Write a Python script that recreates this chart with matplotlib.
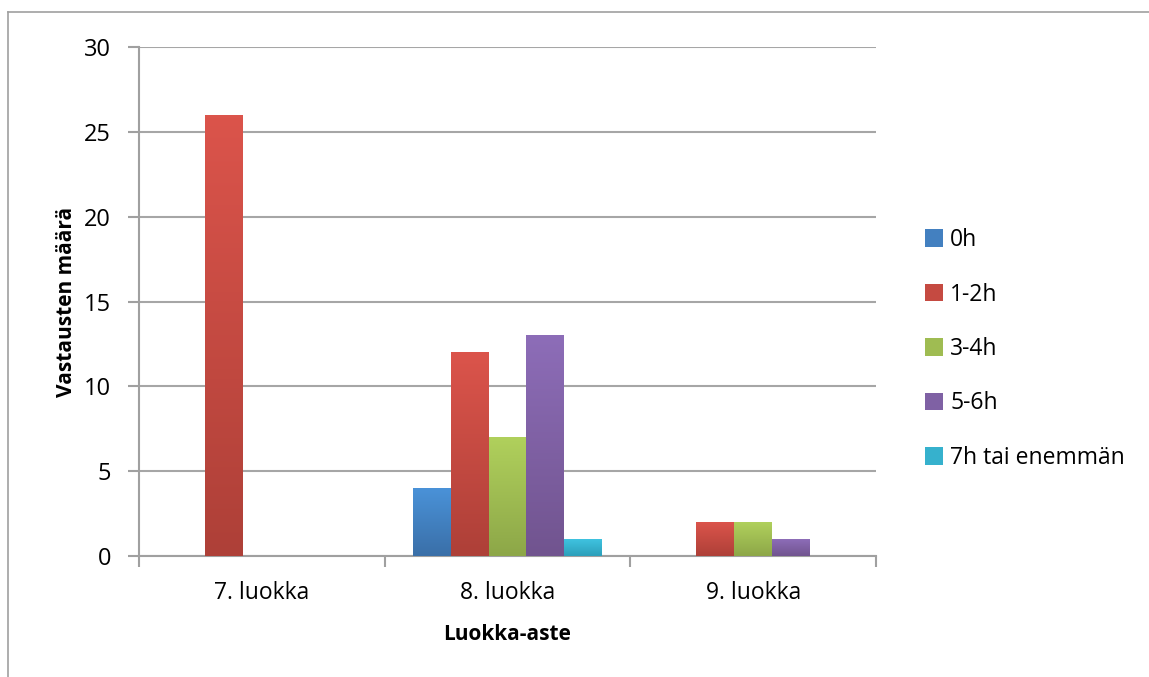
import numpy as np
import matplotlib
matplotlib.use("Agg")
import matplotlib.pyplot as plt
from matplotlib.lines import Line2D
from matplotlib.patches import Patch
from matplotlib.colors import LinearSegmentedColormap

categories = ["7. luokka", "8. luokka", "9. luokka"]
series_names = ["0h", "1-2h", "3-4h", "5-6h", "7h tai enemmän"]
v_0h = [0, 4, 0]
v_1_2h = [26, 12, 2]
v_3_4h = [0, 7, 2]
v_5_6h = [0, 13, 1]
v_7h = [0, 1, 0]
series_values = [v_0h, v_1_2h, v_3_4h, v_5_6h, v_7h]
yticks = [0, 5, 10, 15, 20, 25, 30]

tops = ["#4a92d8", "#db544b", "#b0d05c", "#8d6db8", "#3fc3e0"]
bottoms = ["#3a6fa8", "#ae4038", "#8da748", "#71548f", "#2c9fba"]
mids = ["#4380c0", "#c54a41", "#9fbc52", "#7f61a4", "#36b1cd"]

plt.rcParams['font.family'] = ['Open Sans', 'DejaVu Sans']
fig = plt.figure(figsize=(11.49, 6.77), dpi=100)
ax = fig.add_axes([139/1149, 1-556/677, (876-139)/1149, (556-47)/677])

n = len(series_names)
w = 1.0 / (n + 1.5)
x = np.arange(len(categories))
grad = np.linspace(0, 1, 100).reshape(-1, 1)
for i, (vals, name) in enumerate(zip(series_values, series_names)):
    offs = x + (i - (n - 1) / 2) * w
    bars = ax.bar(offs, vals, width=w, color=mids[i], label=name, zorder=3, linewidth=0)
    cmap = LinearSegmentedColormap.from_list("g%d" % i, [bottoms[i], tops[i]])
    for b in bars:
        h = b.get_height()
        if h <= 0:
            continue
        x0 = b.get_x()
        im = ax.imshow(grad, extent=[x0, x0 + b.get_width(), 0, h], origin='lower',
                       cmap=cmap, aspect='auto', zorder=4, interpolation='bicubic')
        im.set_clip_path(b)

ax.set_xlim(-0.5, len(categories) - 0.5)
ax.set_ylim(0, 30)
ax.set_yticks(yticks)
ax.set_yticklabels([str(t) for t in yticks], fontsize=17)
ax.set_xticks(x)
ax.set_xticklabels(categories, fontsize=16.5)
ax.tick_params(axis='x', length=0, pad=18)
ax.tick_params(axis='y', length=8, width=1.5, color='#a0a0a0', pad=12)
ax.set_xticks(np.arange(-0.5, len(categories)), minor=True)
ax.tick_params(axis='x', which='minor', length=8, width=1.5, color='#a0a0a0')
ax.yaxis.grid(True, color='#a6a6a6', linewidth=1.5, zorder=0)
ax.set_axisbelow(True)
for s in ['top', 'right']:
    ax.spines[s].set_visible(False)
for s in ['left', 'bottom']:
    ax.spines[s].set_color('#a0a0a0')
    ax.spines[s].set_linewidth(1.5)
ax.set_ylabel("Vastausten määrä", fontsize=15, fontweight='bold', labelpad=5)
ax.set_xlabel("Luokka-aste", fontsize=15, fontweight='bold', labelpad=14)

handles = [Patch(facecolor=mids[i], label=series_names[i]) for i in range(n)]
fig.legend(handles=handles, loc='center left', bbox_to_anchor=(916/1149, 1-349/677),
           frameon=False, fontsize=16.5, handlelength=0.8, handleheight=0.8,
           handletextpad=0.3, labelspacing=1.33, borderaxespad=0)

fig.add_artist(Line2D([8/1149, 1], [1-12/677, 1-12/677], color='#a0a0a0', linewidth=1.2, transform=fig.transFigure))
fig.add_artist(Line2D([8/1149, 8/1149], [0, 1-12/677], color='#a0a0a0', linewidth=1.2, transform=fig.transFigure))

fig.savefig("out.png", dpi=100)
